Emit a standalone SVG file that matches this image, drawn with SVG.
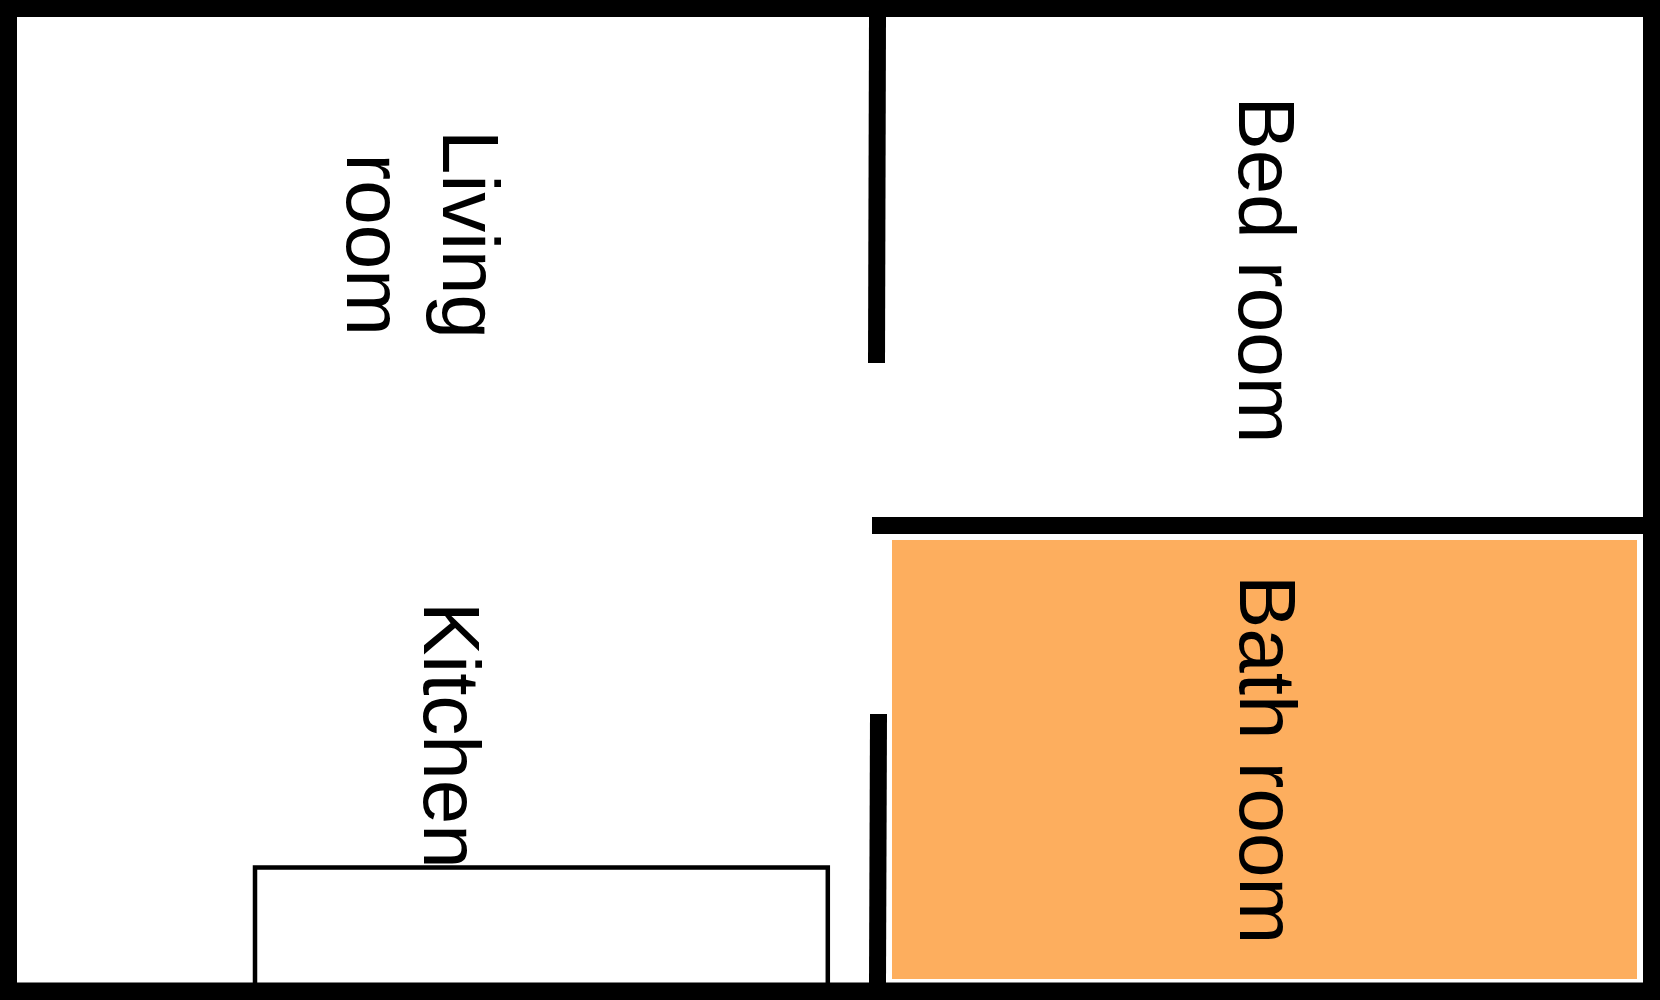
<svg xmlns="http://www.w3.org/2000/svg" width="1660" height="1000" viewBox="0 0 1660 1000">
<style>
.wall{fill:#000}
.label{font-family:"Liberation Sans",Arial,sans-serif;font-size:80px;font-kerning:none;fill:#000}
</style>
<rect width="1660" height="1000" fill="#fff"/>
<g id="bath-room">
<rect x="892" y="540" width="745" height="439" fill="#fdae5e"/>
<text class="label" transform="translate(1240 575) rotate(90)">Bath room</text>
</g>
<g id="bed-room">
<text class="label" transform="translate(1238.7 96.5) rotate(90)">Bed room</text>
</g>
<g id="living-room">
<text class="label" transform="translate(442.7 130) rotate(90)">Living</text>
<text class="label" transform="translate(346.7 153.6) rotate(90)">room</text>
</g>
<g id="kitchen">
<text class="label" transform="translate(424 602) rotate(90)">Kitchen</text>
</g>
<g id="counter">
<rect x="255" y="867.5" width="572.8" height="125" fill="#fff" stroke="#000" stroke-width="4.5"/>
</g>
<g id="walls">
<path class="wall" fill-rule="evenodd" d="M0 0H1660V1000H0ZM17 17V982.5H1643V17Z"/>
<polygon class="wall" points="869,17 886,17 885,363 868,363"/>
<rect class="wall" x="872" y="517" width="771" height="17"/>
<polygon class="wall" points="870,714 887,714 886,983 869,983"/>
</g>
</svg>
